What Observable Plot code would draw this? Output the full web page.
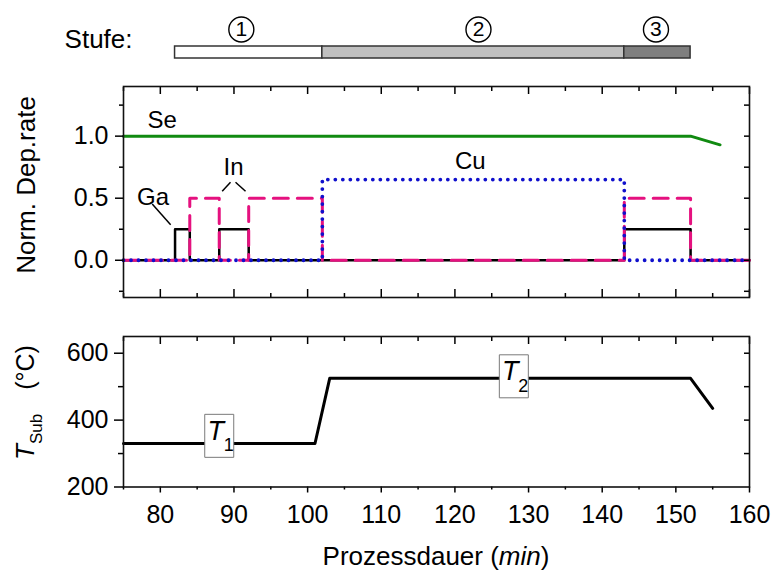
<!DOCTYPE html>
<html><head><meta charset="utf-8">
<script src="https://cdn.jsdelivr.net/npm/d3@7"></script>
<script src="https://cdn.jsdelivr.net/npm/@observablehq/plot@0.6"></script>
<style>
body{margin:0;background:#fff;}
#chart{width:772px;height:572px;overflow:hidden;}
#chart svg{display:block;}
</style></head><body><div id="chart"></div>
<script>
// ---------- data ----------
const xDomain = [75, 160];
const xMajor = [80, 90, 100, 110, 120, 130, 140, 150, 160];
const xMinor = [75, 85, 95, 105, 115, 125, 135, 145, 155];

// process stages (Stufe)
const stageNames = ["1", "2", "3"];
const stageStart = [82, 102, 143];
const stageEnd = [102, 143, 152];
const stageLabelX = [91, 123.2, 147.3];
const stageFill = ["#ffffff", "#c0c0c0", "#7f7f7f"];

// normalized deposition rates (step functions: value holds from time t on)
const seT = [75, 152, 156];
const seRate = [1, 1, 0.93];
const gaT = [75, 82, 84, 88, 92, 143, 152, 160];
const gaRate = [0, 0.25, 0, 0.25, 0, 0.25, 0, 0];
const inT = [75, 84, 88, 92, 102, 143, 152, 160];
const inRate = [0, 0.5, 0, 0.5, 0, 0.5, 0, 0];
const cuT = [75, 102, 143, 160];
const cuRate = [0, 0.65, 0, 0];
const rateMajor = [0, 0.5, 1];
const rateMinor = [-0.25, 0.25, 0.75, 1.25];
const rateAll = [-0.25, 0, 0.25, 0.5, 0.75, 1, 1.25];

// element labels in the upper panel
const annoText = ["Se", "Ga", "In", "Cu"];
const annoX = [80.25, 79.0, 89.94, 122.1];
const annoY = [1.126, 0.509, 0.747, 0.799];
const leadX1 = [78.9, 89.53, 90.21];
const leadY1 = [0.453, 0.629, 0.629];
const leadX2 = [81.4, 88.40, 91.57];
const leadY2 = [0.286, 0.556, 0.556];

// substrate temperature
const tTime = [75, 101, 103, 152, 155];
const tSub = [330, 330, 525, 525, 435];
const tMajor = [200, 400, 600];
const tMinor = [300, 500];
const tAll = [300, 400, 500, 600];
const tLabelX = [88, 128];
const tLabelY = [353, 531];
const tLabelSub = ["1", "2"];

// ---------- layout ----------
const W = 772, ML = 123, MR = 23;
const FONT = '"Liberation Sans", Arial, Helvetica, sans-serif';
const baseStyle = {fontFamily: FONT, fontSize: "24px", color: "#000", background: "transparent", overflow: "visible"};
const ink = "#111";
const blank = () => "";

// ---------- stage bar ----------
const stageIdx = stageNames.map((d, i) => i);
const stagePlot = Plot.plot({
  width: W, height: 70, marginLeft: ML, marginRight: MR, marginTop: 0, marginBottom: 0,
  style: baseStyle,
  x: {domain: xDomain, axis: null},
  y: {type: "band", domain: ["Stufe"], range: [46, 58], padding: 0, axis: null},
  color: {type: "identity"},
  marks: [
    Plot.barX(stageIdx, {x1: i => stageStart[i], x2: i => stageEnd[i], y: () => "Stufe",
      fill: i => stageFill[i], stroke: "#333", strokeWidth: 1.5}),
    Plot.text(["Stufe:"], {x: () => xDomain[0], y: () => "Stufe", text: d => d, textAnchor: "end",
      dx: 9, dy: -13, fontSize: 26, fill: "#000"}),
    Plot.dot(stageIdx, {x: i => stageLabelX[i], y: () => "Stufe", r: 12.5, dy: -23,
      fill: "white", stroke: "#000", strokeWidth: 1.4}),
    Plot.text(stageIdx, {x: i => stageLabelX[i], y: () => "Stufe", text: i => stageNames[i],
      dy: -23, fontSize: 21, fill: "#000"})
  ]
});

// ---------- upper panel ----------
const upper = Plot.plot({
  width: W, height: 235, marginLeft: ML, marginRight: MR, marginTop: 16, marginBottom: 8,
  style: baseStyle,
  x: {domain: xDomain},
  y: {domain: [-0.3, 1.4]},
  marks: [
    Plot.line(seT, {x: d => d, y: seRate, stroke: "#118a11", strokeWidth: 3}),
    Plot.line(gaT, {x: d => d, y: gaRate, curve: "step-after", stroke: "#000", strokeWidth: 2.5}),
    Plot.line(inT, {x: d => d, y: inRate, curve: "step-after", stroke: "#e5117f", strokeWidth: 3,
      strokeDasharray: "15,9"}),
    Plot.line(cuT, {x: d => d, y: cuRate, curve: "step-after", stroke: "#1010cc", strokeWidth: 3.8,
      strokeDasharray: "0,7.5", strokeLinecap: "round"}),
    Plot.text(annoText, {x: annoX, y: annoY, text: d => d, fontSize: 24, fill: "#000"}),
    Plot.link(leadX1, {x1: leadX1, y1: leadY1, x2: leadX2, y2: leadY2, stroke: "#000", strokeWidth: 1.5}),
    Plot.axisX({anchor: "bottom", ticks: xMajor, tickSize: -8, tickFormat: blank, label: null, strokeWidth: 1.5}),
    Plot.axisX({anchor: "bottom", ticks: xMinor, tickSize: -4, tickFormat: blank, label: null, strokeWidth: 1.5}),
    Plot.axisX({anchor: "top", ticks: xMajor, tickSize: -7, tickFormat: blank, label: null, strokeWidth: 1.5}),
    Plot.axisX({anchor: "top", ticks: xMinor, tickSize: -4, tickFormat: blank, label: null, strokeWidth: 1.5}),
    Plot.axisY({anchor: "left", ticks: rateMajor, tickSize: 8, tickPadding: 7, tickFormat: d3.format(".1f"),
      label: null, strokeWidth: 1.5, fontSize: 25}),
    Plot.axisY({anchor: "left", ticks: rateMinor, tickSize: 4, tickFormat: blank, label: null, strokeWidth: 1.5}),
    Plot.axisY({anchor: "right", ticks: rateAll, tickSize: -6, tickFormat: blank, label: null, strokeWidth: 1.5}),
    Plot.frame({stroke: ink, strokeWidth: 1.6})
  ]
});

// ---------- lower panel ----------
const boxSymbol = {draw(ctx) {
  ctx.moveTo(-14.5, -21.5); ctx.lineTo(14.5, -21.5); ctx.lineTo(14.5, 21.5); ctx.lineTo(-14.5, 21.5); ctx.closePath();
}};
const lower = Plot.plot({
  width: W, height: 267, marginLeft: ML, marginRight: MR, marginTop: 31, marginBottom: 85.5,
  style: baseStyle,
  x: {domain: xDomain},
  y: {domain: [200, 650]},
  marks: [
    Plot.line(tTime, {x: d => d, y: tSub, stroke: "#000", strokeWidth: 3}),
    Plot.dot(tLabelX, {x: d => d, y: tLabelY, symbol: boxSymbol, fill: "white", stroke: "#7a7a7a", strokeWidth: 1}),
    Plot.text(tLabelX, {x: d => d, y: tLabelY, text: () => "T", fontStyle: "italic", fontSize: 27,
      dx: -3.5, dy: -4.5, fill: "#000"}),
    Plot.text(tLabelX, {x: d => d, y: tLabelY, text: (d, i) => tLabelSub[i], fontSize: 18,
      dx: 9.5, dy: 9.5, fill: "#000"}),
    Plot.axisX({anchor: "bottom", ticks: xMajor, tickSize: 6, tickPadding: 12, tickFormat: d3.format("d"),
      label: null, strokeWidth: 1.5, fontSize: 25}),
    Plot.axisX({anchor: "bottom", ticks: xMinor, tickSize: 3, tickFormat: blank, label: null, strokeWidth: 1.5}),
    Plot.axisX({anchor: "top", ticks: xMajor, tickSize: -7, tickFormat: blank, label: null, strokeWidth: 1.5}),
    Plot.axisX({anchor: "top", ticks: xMinor, tickSize: -4, tickFormat: blank, label: null, strokeWidth: 1.5}),
    Plot.axisY({anchor: "left", ticks: tMajor, tickSize: 9, tickPadding: 6, tickFormat: d3.format("d"),
      label: null, strokeWidth: 1.5, fontSize: 25}),
    Plot.axisY({anchor: "left", ticks: tMinor, tickSize: 5, tickFormat: blank, label: null, strokeWidth: 1.5}),
    Plot.axisY({anchor: "right", ticks: tAll, tickSize: -6, tickFormat: blank, label: null, strokeWidth: 1.5}),
    Plot.frame({stroke: ink, strokeWidth: 1.6})
  ]
});

const root = document.getElementById("chart");
root.appendChild(stagePlot);
root.appendChild(upper);
root.appendChild(lower);

// ---------- axis titles (rich text) ----------
function title(svg, x, y, rotate, parts) {
  const t = d3.select(svg).append("text")
    .attr("x", x).attr("y", y)
    .attr("text-anchor", "middle")
    .attr("font-family", FONT).attr("font-size", 26).attr("fill", "#000");
  if (rotate) t.attr("transform", `rotate(${rotate},${x},${y})`);
  for (const p of parts) {
    const s = t.append("tspan").text(p.text);
    if (p.italic) s.attr("font-style", "italic");
    if (p.size) s.attr("font-size", p.size);
    if (p.dx) s.attr("dx", p.dx);
    if (p.dy) s.attr("dy", p.dy);
  }
  return t;
}
title(upper, 35, 115, -90, [{text: "Norm. Dep.rate"}]);
title(lower, 34, 97.5, -90, [
  {text: "T", italic: true},
  {text: "Sub", size: 17, dy: 8},
  {text: "(°C)", size: 25, dx: 24, dy: -8}
]);
title(lower, 436, 260, 0, [
  {text: "Prozessdauer ("},
  {text: "min", italic: true},
  {text: ")"}
]);
</script>
</body></html>
